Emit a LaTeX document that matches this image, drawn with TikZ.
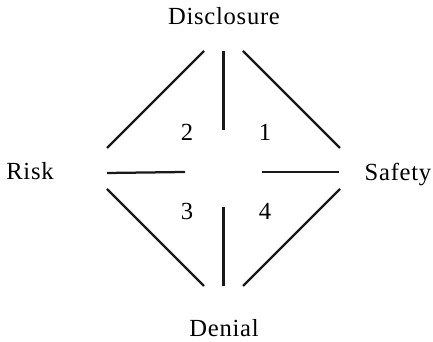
\documentclass[tikz,border=0pt]{standalone}
\usepackage{fontspec}
\setmainfont{Liberation Serif}[LetterSpace=3]
\begin{document}
\begin{tikzpicture}[line cap=butt,
    bar/.style={black!90,line width=1.6pt},
    lbl/.style={anchor=base,inner sep=0pt,font=\fontsize{17.5}{21}\selectfont}]
  \useasboundingbox (0,0) rectangle (10.825,8.55);

  % Four poles.
  \node[lbl] (disc) at (5.60,7.925) {Disclosure};
  \node[lbl] (risk) at (0.75,4.05) {Risk};
  \node[lbl] (safe) at (9.95,4.025) {Safety};
  \node[lbl] (deni) at (5.60,0.125) {Denial};

  % Quadrant numbers.
  \node[lbl] (q1) at (6.625,5.025) {1};
  \node[lbl] (q2) at (4.675,5.025) {2};
  \node[lbl] (q3) at (4.675,3.05) {3};
  \node[lbl] (q4) at (6.625,3.05) {4};

  % Diamond edges.
  \draw[bar] (2.675,4.85)--(5.10,7.275);
  \draw[bar] (6.075,7.275)--(8.50,4.85);
  \draw[bar] (2.675,3.825)--(5.10,1.40);
  \draw[bar] (6.075,1.40)--(8.50,3.825);

  % Cross bars.
  \draw[bar] (5.5875,7.275)--(5.5875,5.30);
  \draw[bar] (5.5875,3.375)--(5.5875,1.40);
  \draw[bar] (2.675,4.225)--(4.625,4.25);
  \draw[bar] (6.55,4.25)--(8.475,4.25);
\end{tikzpicture}
\end{document}
